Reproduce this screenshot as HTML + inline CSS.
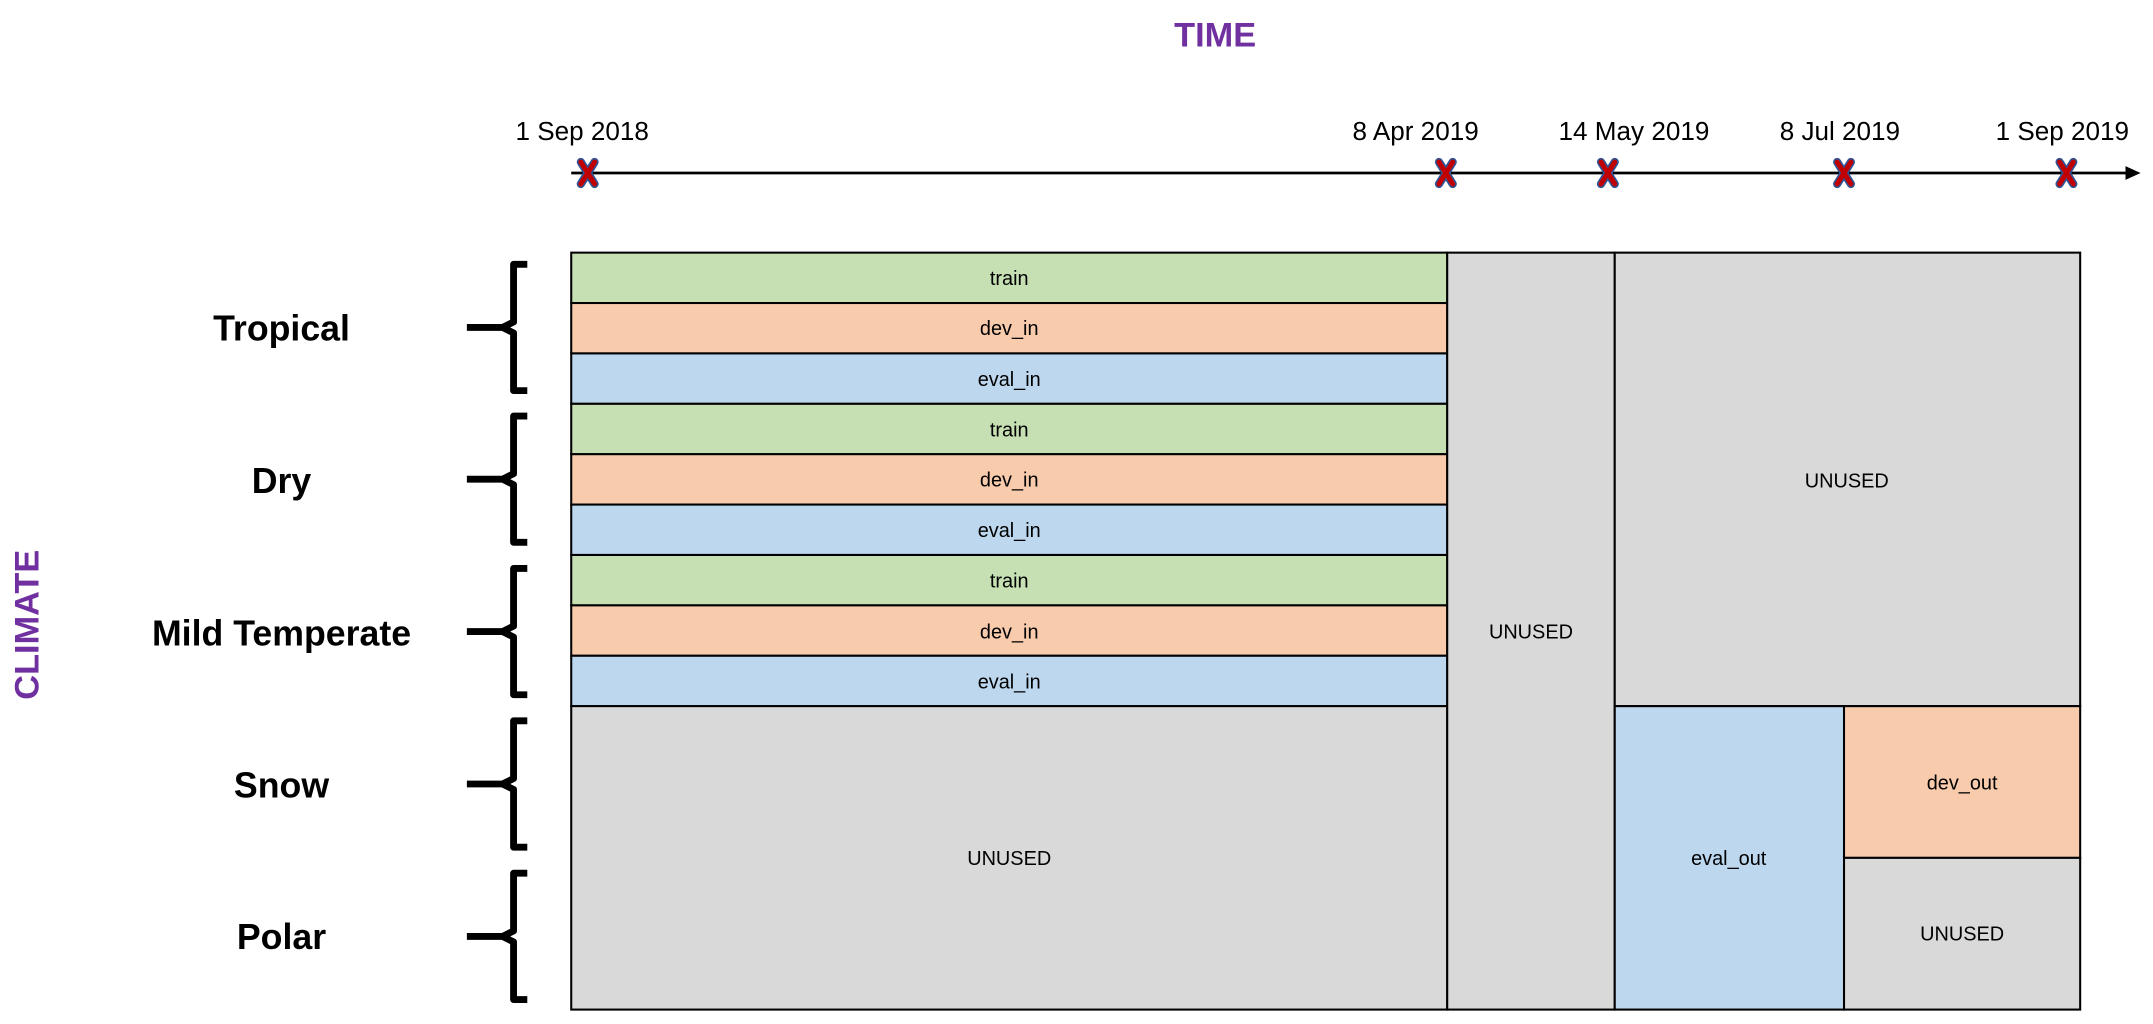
<!DOCTYPE html>
<html><head><meta charset="utf-8"><style>
html,body{margin:0;padding:0;background:#fff;width:2153px;height:1024px;overflow:hidden}
svg{display:block}
text{font-family:"Liberation Sans",sans-serif}
.c{font-size:14.5px;fill:#000}
.d{font-size:19px;fill:#000}
.l{font-size:26px;font-weight:bold;fill:#000}
</style></head><body>
<svg width="2153" height="1024" viewBox="0 0 1568 745.8" xmlns="http://www.w3.org/2000/svg">
<defs>
<g id="x"><path d="M-5,-8 L5,8 M5,-8 L-5,8" stroke="#2f5597" stroke-width="6" stroke-linecap="round"/><path d="M-5,-8 L5,8 M5,-8 L-5,8" stroke="#c00000" stroke-width="3.6" stroke-linecap="round"/></g>
<path id="br" d="M384,-46 L374,-46 L374,-4 L366,0 L340,0 M366,0 L374,4 L374,46 L384,46" fill="none" stroke="#000" stroke-width="5" stroke-linejoin="round"/>
</defs>
<text x="885" y="34" text-anchor="middle" font-size="25" font-weight="bold" fill="#7030A0">TIME</text>
<text transform="translate(28,455) rotate(-90)" text-anchor="middle" font-size="25" font-weight="bold" fill="#7030A0">CLIMATE</text>
<line x1="416" y1="126" x2="1550" y2="126" stroke="#000" stroke-width="2"/>
<polygon points="1548,121 1559,126 1548,131" fill="#000"/>
<text class="d" x="424" y="102" text-anchor="middle">1 Sep 2018</text>
<text class="d" x="1031" y="102" text-anchor="middle">8 Apr 2019</text>
<text class="d" x="1190" y="102" text-anchor="middle">14 May 2019</text>
<text class="d" x="1340" y="102" text-anchor="middle">8 Jul 2019</text>
<text class="d" x="1502" y="102" text-anchor="middle">1 Sep 2019</text>
<use href="#x" x="428" y="126"/><use href="#x" x="1053" y="126"/><use href="#x" x="1171" y="126"/><use href="#x" x="1343" y="126"/><use href="#x" x="1505" y="126"/>
<g stroke="#000" stroke-width="1.5">
<rect x="416" y="184" width="638" height="36.7" fill="#c6e0b4"/>
<rect x="416" y="220.7" width="638" height="36.7" fill="#f8cbad"/>
<rect x="416" y="257.4" width="638" height="36.7" fill="#bdd7ee"/>
<rect x="416" y="294.1" width="638" height="36.7" fill="#c6e0b4"/>
<rect x="416" y="330.8" width="638" height="36.7" fill="#f8cbad"/>
<rect x="416" y="367.5" width="638" height="36.7" fill="#bdd7ee"/>
<rect x="416" y="404.2" width="638" height="36.7" fill="#c6e0b4"/>
<rect x="416" y="440.9" width="638" height="36.7" fill="#f8cbad"/>
<rect x="416" y="477.6" width="638" height="36.7" fill="#bdd7ee"/>
<rect x="416" y="514.3" width="638" height="221" fill="#d9d9d9"/>
<rect x="1054" y="184" width="122" height="551.3" fill="#d9d9d9"/>
<rect x="1176" y="184" width="339" height="330.3" fill="#d9d9d9"/>
<rect x="1176" y="514.3" width="167" height="221" fill="#bdd7ee"/>
<rect x="1343" y="514.3" width="172" height="110.5" fill="#f8cbad"/>
<rect x="1343" y="624.8" width="172" height="110.5" fill="#d9d9d9"/>
</g>
<g text-anchor="middle">
<text class="c" x="735" y="207.5">train</text>
<text class="c" x="735" y="244">dev_in</text>
<text class="c" x="735" y="281">eval_in</text>
<text class="c" x="735" y="318">train</text>
<text class="c" x="735" y="354.5">dev_in</text>
<text class="c" x="735" y="391">eval_in</text>
<text class="c" x="735" y="428">train</text>
<text class="c" x="735" y="465">dev_in</text>
<text class="c" x="735" y="501.5">eval_in</text>
<text class="c" x="735" y="630">UNUSED</text>
<text class="c" x="1115" y="465">UNUSED</text>
<text class="c" x="1345" y="355">UNUSED</text>
<text class="c" x="1259" y="630">eval_out</text>
<text class="c" x="1429" y="575">dev_out</text>
<text class="c" x="1429" y="685">UNUSED</text>
</g>
<g text-anchor="middle">
<text class="l" x="205" y="248">Tropical</text>
<text class="l" x="205" y="359">Dry</text>
<text class="l" x="205" y="470">Mild Temperate</text>
<text class="l" x="205" y="581">Snow</text>
<text class="l" x="205" y="691">Polar</text>
</g>
<use href="#br" y="238.5"/><use href="#br" y="349"/><use href="#br" y="460"/><use href="#br" y="571"/><use href="#br" y="682"/>
</svg>
</body></html>
